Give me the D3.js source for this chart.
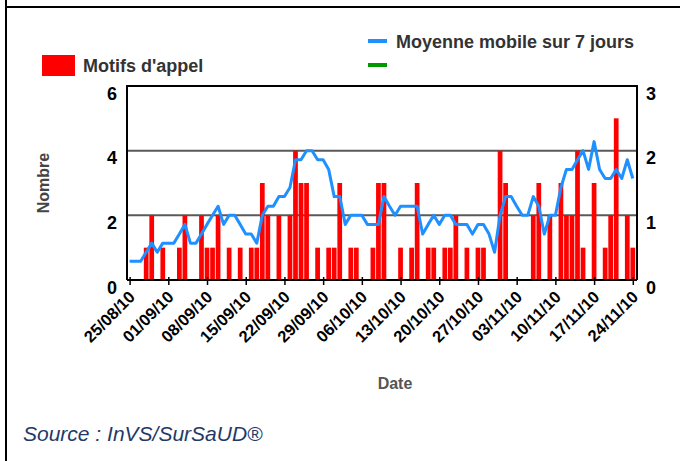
<!DOCTYPE html>
<html>
<head>
<meta charset="utf-8">
<script src="https://cdn.jsdelivr.net/npm/d3@7"></script>
<style>
  body { margin: 0; background: #fff; }
  svg { display: block; font-family: "Liberation Sans", Arial, sans-serif; }
</style>
</head>
<body>
<div id="chart"></div>
<script>
// daily counts from 25/08/10 to 24/11/10
var startDate = "2010-08-25";
var counts = [0,0,0,1,2,0,1,0,0,1, 2,0,0,2,1,1,2,0,1,0, 1,0,1,1,3,2,0,2,0,2,
              4,3,3,0,1,0,1,1,3,0, 1,1,0,0,1,3,3,0,0,1, 0,1,3,0,1,1,0,1,1,2,
              0,1,0,1,1,0,0,4,3,0, 0,0,0,2,3,0,2,0,3,2, 2,4,1,0,3,0,1,2,5,0,
              2,1];
var movingAvg = [0.29,0.29,0.29,0.43,0.57,0.43,0.57,0.57,0.57,0.71, 0.86,0.57,0.57,0.71,0.86,1.0,1.14,0.86,1.0,1.0,
                 0.86,0.71,0.71,0.57,1.0,1.14,1.14,1.29,1.29,1.43, 1.86,1.86,2.0,2.0,1.86,1.86,1.71,1.29,1.29,0.86,
                 1.0,1.0,1.0,0.86,0.86,0.86,1.29,1.14,1.0,1.14, 1.14,1.14,1.14,0.71,0.86,1.0,0.86,1.0,1.0,0.86,
                 0.86,0.86,0.71,0.86,0.86,0.71,0.43,1.0,1.29,1.29, 1.14,1.0,1.0,1.29,1.14,0.71,1.0,1.0,1.43,1.71,
                 1.71,1.86,2.0,1.71,2.14,1.71,1.57,1.57,1.71,1.57, 1.86,1.57];
var tickLabels = ["25/08/10","01/09/10","08/09/10","15/09/10","22/09/10","29/09/10","06/10/10",
                  "13/10/10","20/10/10","27/10/10","03/11/10","10/11/10","17/11/10","24/11/10"];
var leftTicks = [0, 2, 4, 6];
var rightTicks = [0, 1, 2, 3];

var parse = d3.timeParse("%d/%m/%y");
var day0 = d3.timeParse("%Y-%m-%d")(startDate);
var data = counts.map(function(c, i) {
    return { date: d3.timeDay.offset(day0, i), count: c, ma: movingAvg[i] };
});

var W = 680, H = 461;
var svg = d3.select("#chart").append("svg").attr("width", W).attr("height", H);

// frame
svg.append("line").attr("x1", 6).attr("x2", 6).attr("y1", 0).attr("y2", H)
    .attr("stroke", "#000").attr("stroke-width", 2);
svg.append("line").attr("x1", 6).attr("x2", W).attr("y1", 7).attr("y2", 7)
    .attr("stroke", "#000").attr("stroke-width", 2);

var plot = { left: 127, right: 637, top: 86, bottom: 280 };

var x = d3.scaleTime()
    .domain([day0, parse("24/11/10")])
    .range([129.6, 632.8]);
var y = d3.scaleLinear().domain([0, 6]).range([plot.bottom, plot.top]);
var y2 = d3.scaleLinear().domain([0, 3]).range([plot.bottom, plot.top]);
var step = x(d3.timeDay.offset(day0, 1)) - x(day0);

// gridlines
svg.selectAll("line.grid")
    .data([2, 4])
    .enter().append("line")
    .attr("class", "grid")
    .attr("x1", plot.left).attr("x2", plot.right)
    .attr("y1", function(d) { return y(d); })
    .attr("y2", function(d) { return y(d); })
    .attr("stroke", "#5a5a5a").attr("stroke-width", 2);

// bars
svg.selectAll("rect.bar")
    .data(data.filter(function(d) { return d.count > 0; }))
    .enter().append("rect")
    .attr("class", "bar")
    .attr("x", function(d) { return x(d.date) - step / 2 + 0.4; })
    .attr("y", function(d) { return y(d.count); })
    .attr("width", step - 0.8)
    .attr("height", function(d) { return plot.bottom - y(d.count); })
    .attr("fill", "#ff0000");

// moving average
var line = d3.line()
    .x(function(d) { return x(d.date); })
    .y(function(d) { return y2(d.ma); });
svg.append("path")
    .datum(data)
    .attr("d", line)
    .attr("fill", "none")
    .attr("stroke", "#1e90ff")
    .attr("stroke-width", 3)
    .attr("stroke-linejoin", "round");

// plot border
svg.append("path")
    .attr("d", "M" + plot.left + "," + plot.bottom + "V" + plot.top + "H" + plot.right + "V" + plot.bottom)
    .attr("fill", "none").attr("stroke", "#000").attr("stroke-width", 2);

// x axis
var xAxis = svg.append("g")
    .attr("transform", "translate(0," + plot.bottom + ")")
    .call(d3.axisBottom(x)
        .tickValues(tickLabels.map(parse))
        .tickSize(5)
        .tickFormat(d3.timeFormat("%d/%m/%y")));
xAxis.select(".domain")
    .attr("d", "M" + plot.left + ",0H" + plot.right)
    .attr("stroke", "#000").attr("stroke-width", 2);
xAxis.selectAll(".tick line").attr("y1", -3).attr("stroke", "#000").attr("stroke-width", 1.5);
xAxis.selectAll(".tick text")
    .attr("font-size", 16.5)
    .attr("font-weight", "bold")
    .attr("fill", "#000")
    .attr("text-anchor", "end")
    .attr("y", 0).attr("dy", 0)
    .attr("transform", "translate(6,18) rotate(-45)");

// left / right value labels
svg.selectAll("text.yl")
    .data(leftTicks)
    .enter().append("text")
    .attr("class", "yl")
    .attr("x", 117)
    .attr("y", function(d) { return y(d) + 13.5; })
    .attr("text-anchor", "end")
    .attr("font-size", 18).attr("font-weight", "bold").attr("fill", "#000")
    .text(function(d) { return d; });
svg.selectAll("text.yr")
    .data(rightTicks)
    .enter().append("text")
    .attr("class", "yr")
    .attr("x", 646)
    .attr("y", function(d) { return y2(d) + 13.5; })
    .attr("font-size", 18).attr("font-weight", "bold").attr("fill", "#000")
    .text(function(d) { return d; });

// axis titles
svg.append("text")
    .attr("transform", "translate(49,183) rotate(-90)")
    .attr("text-anchor", "middle")
    .attr("font-size", 16).attr("font-weight", "bold").attr("fill", "#444")
    .text("Nombre");
svg.append("text")
    .attr("x", 395).attr("y", 389)
    .attr("text-anchor", "middle")
    .attr("font-size", 16).attr("font-weight", "bold").attr("fill", "#555")
    .text("Date");

// legend
svg.append("rect").attr("x", 42).attr("y", 55).attr("width", 33).attr("height", 21).attr("fill", "#ff0000");
svg.append("text").attr("x", 83).attr("y", 72)
    .attr("font-size", 18).attr("font-weight", "bold").attr("fill", "#333")
    .text("Motifs d'appel");
svg.append("line").attr("x1", 368).attr("x2", 387).attr("y1", 41).attr("y2", 41)
    .attr("stroke", "#1e90ff").attr("stroke-width", 4);
svg.append("text").attr("x", 396).attr("y", 48)
    .attr("font-size", 18).attr("font-weight", "bold").attr("fill", "#333")
    .text("Moyenne mobile sur 7 jours");
svg.append("line").attr("x1", 368).attr("x2", 387).attr("y1", 65).attr("y2", 65)
    .attr("stroke", "#009900").attr("stroke-width", 4);

// source
svg.append("text").attr("x", 23).attr("y", 441)
    .attr("font-size", 21).attr("font-style", "italic").attr("fill", "#1f3a68")
    .text("Source : InVS/SurSaUD®");
</script>
</body>
</html>
